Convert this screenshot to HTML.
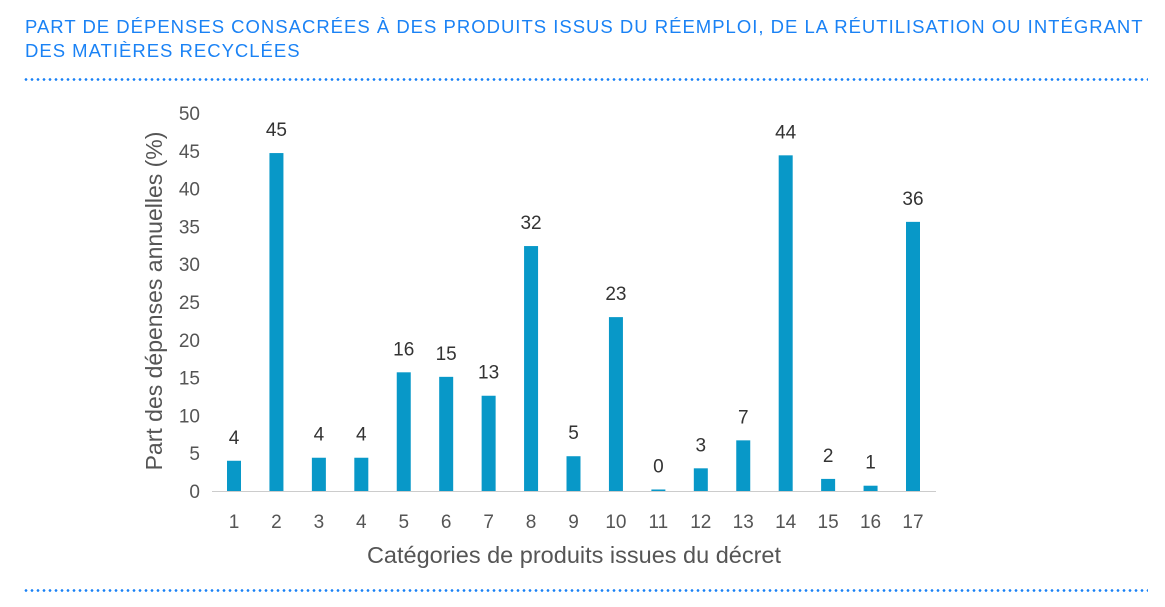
<!DOCTYPE html>
<html><head><meta charset="utf-8"><style>
body{margin:0;width:1165px;height:607px;background:#fff;overflow:hidden;font-family:"Liberation Sans",sans-serif;}
#title{position:absolute;left:25px;top:15px;color:#1a82f5;font-size:18.5px;line-height:24px;letter-spacing:1px;white-space:nowrap;}
.dots{position:absolute;left:23px;width:1125px;height:3px;background-image:radial-gradient(circle,#1a82f5 1.2px,transparent 1.5px);background-size:6px 3px;}
svg{position:absolute;left:0;top:0;}
</style></head><body>
<div id="title">PART DE DÉPENSES CONSACRÉES À DES PRODUITS ISSUS DU RÉEMPLOI, DE LA RÉUTILISATION OU INTÉGRANT<br>DES MATIÈRES RECYCLÉES</div>
<div class="dots" style="top:78px"></div>
<div class="dots" style="top:589px"></div>
<svg id="chart" width="1165" height="607"></svg>
<script>
const categories=["1","2","3","4","5","6","7","8","9","10","11","12","13","14","15","16","17"];
const values=[4.0,44.7,4.4,4.4,15.7,15.1,12.6,32.4,4.6,23.0,0.2,3.0,6.7,44.4,1.6,0.7,35.6];
const labels=["4","45","4","4","16","15","13","32","5","23","0","3","7","44","2","1","36"];
const yTicks=[0,5,10,15,20,25,30,35,40,45,50];
const NS="http://www.w3.org/2000/svg";
const svg=document.getElementById('chart');
const y0=491,y50=113,x1=234,x17=913;
const y=v=>y0-(v/50)*(y0-y50);
const x=i=>x1+i*(x17-x1)/(categories.length-1);
function mk(t,a){const e=document.createElementNS(NS,t);for(const k in a)e.setAttribute(k,a[k]);svg.appendChild(e);return e;}
yTicks.forEach(t=>{const e=mk('text',{x:200,y:y(t)+7,'text-anchor':'end','font-size':19,fill:'#555','font-family':'Liberation Sans, sans-serif'});e.textContent=t;

});
const ax=mk('line',{x1:212,x2:936,y1:y0+0.5,y2:y0+0.5,stroke:'#ccc','stroke-width':1});


categories.forEach((c,i)=>{
const r=mk('rect',{x:x(i)-7,y:y(values[i]),width:14,height:y0-y(values[i]),fill:'#0898c8'});


const l=mk('text',{x:x(i),y:y(values[i])-17,'text-anchor':'middle','font-size':19,fill:'#333','font-family':'Liberation Sans, sans-serif'});l.textContent=labels[i];


const t=mk('text',{x:x(i),y:528,'text-anchor':'middle','font-size':19,fill:'#555','font-family':'Liberation Sans, sans-serif'});t.textContent=c;


});
const xt=mk('text',{x:574,y:563,'text-anchor':'middle','font-size':23.5,fill:'#555','font-family':'Liberation Sans, sans-serif'});xt.textContent='Catégories de produits issues du décret';


const yt=mk('text',{x:0,y:0,'text-anchor':'middle','font-size':23,fill:'#555','font-family':'Liberation Sans, sans-serif',transform:'translate(162,301) rotate(-90)'});yt.textContent='Part des dépenses annuelles (%)';


</script>
</body></html>
